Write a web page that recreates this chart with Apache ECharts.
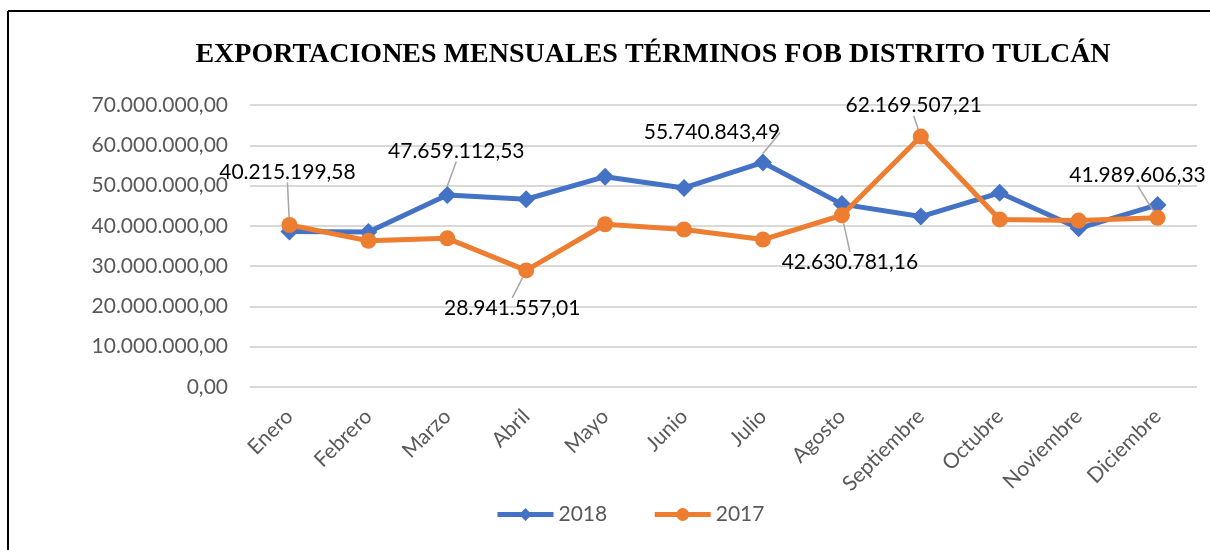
<!DOCTYPE html>
<html>
<head>
<meta charset="utf-8">
<script src="https://cdn.jsdelivr.net/npm/echarts@6/dist/echarts.min.js"></script>
<style>
  html, body { margin: 0; padding: 0; background: #fff; }
  #chart { width: 1210px; height: 550px; }
</style>
</head>
<body>
<div id="chart"></div>
<script>
var meses = ["Enero", "Febrero", "Marzo", "Abril", "Mayo", "Junio", "Julio",
    "Agosto", "Septiembre", "Octubre", "Noviembre", "Diciembre"];

var valores2018 = [38600000, 38500000, 47659112.53, 46600000, 52200000, 49400000,
    55740843.49, 45400000, 42300000, 48200000, 39400000, 45200000];

var valores2017 = [40215199.58, 36300000, 36900000, 28941557.01, 40400000, 39100000,
    36600000, 42630781.16, 62169507.21, 41600000, 41300000, 41989606.33];

// puntos con etiqueta (indices de meses)
var etiquetas2018 = [2, 6];
var etiquetas2017 = [0, 3, 7, 8, 11];

// desplazamiento de la etiqueta respecto al punto
var desplaza = {
    "0-2": [9, -44],
    "0-6": [-51, -30],
    "1-0": [-2, -53],
    "1-3": [-14, 38],
    "1-7": [8, 47],
    "1-8": [-7, -31],
    "1-11": [-20, -43]
};

function formatoEs(v, dec) {
    var partes = Number(v).toFixed(dec).split(".");
    var entero = partes[0].replace(/\B(?=(\d{3})+(?!\d))/g, ".");
    return entero + "," + partes[1];
}

function armarDatos(valores, conEtiqueta) {
    var data = [];
    for (var i = 0; i < valores.length; i++) {
        if (conEtiqueta.indexOf(i) >= 0) {
            data.push({
                value: valores[i],
                label: { show: true },
                labelLine: { show: true }
            });
        } else {
            data.push(valores[i]);
        }
    }
    return data;
}

var chart = echarts.init(document.getElementById("chart"));

var etiqueta = {
    show: false,
    position: "inside",
    color: "#000",
    fontFamily: "Lato",
    fontSize: 21,
    formatter: function (p) {
        return formatoEs(p.value, 2);
    }
};

var lineaGuia = {
    show: false,
    lineStyle: { color: "#a6a6a6", width: 1.5 }
};

var option = {
    animation: false,
    title: {
        text: "EXPORTACIONES MENSUALES TÉRMINOS FOB DISTRITO TULCÁN",
        left: 648,
        top: 36,
        textAlign: "center",
        textStyle: {
            fontFamily: "Liberation Serif",
            fontWeight: "bold",
            fontSize: 28,
            color: "#000"
        }
    },
    legend: {
        bottom: 20,
        left: 490,
        itemWidth: 56,
        itemHeight: 16,
        itemGap: 45,
        lineStyle: { width: 5 },
        textStyle: { fontFamily: "Lato", fontSize: 21, color: "#595959" },
        data: ["2018", "2017"]
    },
    grid: {
        left: 250,
        right: 13,
        top: 105,
        bottom: 163
    },
    xAxis: {
        type: "category",
        data: meses,
        boundaryGap: true,
        axisLine: { show: false },
        axisTick: { show: false },
        axisLabel: {
            rotate: 45,
            margin: 26,
            interval: 0,
            fontFamily: "Lato",
            fontSize: 21,
            color: "#595959"
        }
    },
    yAxis: {
        type: "value",
        min: 0,
        max: 70000000,
        interval: 10000000,
        axisLine: { show: false },
        axisTick: { show: false },
        splitLine: { lineStyle: { color: "#d9d9d9", width: 2 } },
        axisLabel: {
            margin: 22,
            fontFamily: "Lato",
            fontSize: 21,
            color: "#595959",
            formatter: function (v) {
                return formatoEs(v, 2);
            }
        }
    },
    series: [
        {
            name: "2018",
            type: "line",
            data: armarDatos(valores2018, etiquetas2018),
            symbol: "diamond",
            symbolSize: 18,
            z: 2,
            lineStyle: { color: "#4472C4", width: 5 },
            itemStyle: { color: "#4472C4" },
            label: etiqueta,
            labelLine: lineaGuia
        },
        {
            name: "2017",
            type: "line",
            data: armarDatos(valores2017, etiquetas2017),
            symbol: "circle",
            symbolSize: 16,
            z: 3,
            lineStyle: { color: "#ED7D31", width: 5 },
            itemStyle: { color: "#ED7D31" },
            label: etiqueta,
            labelLine: lineaGuia
        }
    ],
    labelLayout: function (p) {
        var d = desplaza[p.seriesIndex + "-" + p.dataIndex];
        if (!d) {
            return {};
        }
        return { dx: d[0], dy: d[1] };
    },
    graphic: [
        {
            type: "line",
            shape: { x1: 8, y1: 11, x2: 1210, y2: 11 },
            style: { stroke: "#000", lineWidth: 2 }
        },
        {
            type: "line",
            shape: { x1: 8, y1: 11, x2: 8, y2: 550 },
            style: { stroke: "#000", lineWidth: 2 }
        }
    ]
};

chart.setOption(option);
</script>
</body>
</html>
